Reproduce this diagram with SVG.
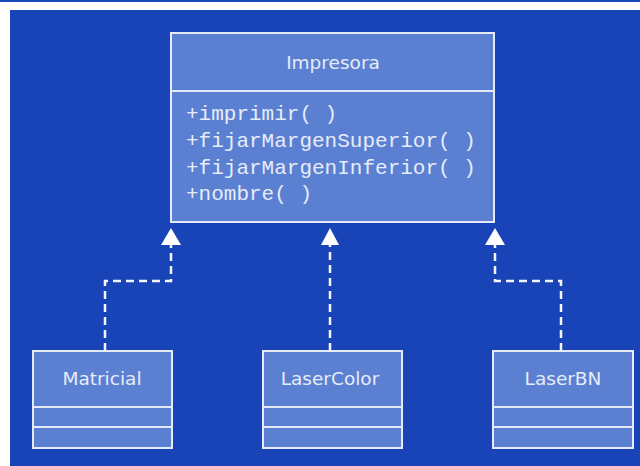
<svg xmlns="http://www.w3.org/2000/svg" width="640" height="466" viewBox="0 0 640 466">
<defs>
<style>
.box{fill:#5b80d2;stroke:#e4eaf7;stroke-width:2}
.title{font-family:"DejaVu Sans","Liberation Sans",sans-serif;font-size:18.5px;fill:#e6ecf9;text-anchor:middle}
.op{font-family:"Liberation Mono","Courier New",monospace;font-size:21px;fill:#e6ecf9}
.conn{fill:none;stroke:#f2f5fc;stroke-width:2.5;stroke-dasharray:8 5}
.head{fill:#ffffff}
</style>
</defs>
<rect x="0" y="0" width="640" height="466" fill="#ffffff"/>
<rect x="0" y="0" width="640" height="2" fill="#1a45b8"/>
<rect x="10" y="10" width="630" height="456" fill="#1844b8"/>
<g id="Impresora">
<rect class="box" x="171" y="33" width="323" height="189"/>
<line class="box" x1="171" y1="91" x2="494" y2="91"/>
<text class="title" x="333" y="69">Impresora</text>
<text class="op" x="186" y="120">+imprimir( )</text>
<text class="op" x="186" y="147">+fijarMargenSuperior( )</text>
<text class="op" x="186" y="174">+fijarMargenInferior( )</text>
<text class="op" x="186" y="200">+nombre( )</text>
</g>
<g id="Matricial">
<rect class="box" x="33" y="351" width="139" height="97"/>
<line class="box" x1="33" y1="407" x2="172" y2="407"/>
<line class="box" x1="33" y1="427" x2="172" y2="427"/>
<text class="title" x="102" y="385">Matricial</text>
</g>
<g id="LaserColor">
<rect class="box" x="263" y="351" width="139" height="97"/>
<line class="box" x1="263" y1="407" x2="402" y2="407"/>
<line class="box" x1="263" y1="427" x2="402" y2="427"/>
<text class="title" x="330" y="385">LaserColor</text>
</g>
<g id="LaserBN">
<rect class="box" x="493" y="351" width="140" height="97"/>
<line class="box" x1="493" y1="407" x2="633" y2="407"/>
<line class="box" x1="493" y1="427" x2="633" y2="427"/>
<text class="title" x="563" y="385">LaserBN</text>
</g>
<g id="connectors">
<path class="conn" d="M105 351 V281 H171 V245"/>
<polygon class="head" points="171,228 161,245 181,245"/>
<path class="conn" d="M330 351 V245"/>
<polygon class="head" points="330,228 321,245 339,245"/>
<path class="conn" d="M561 351 V281 H495 V245"/>
<polygon class="head" points="495,228 485,245 505,245"/>
</g>
</svg>
